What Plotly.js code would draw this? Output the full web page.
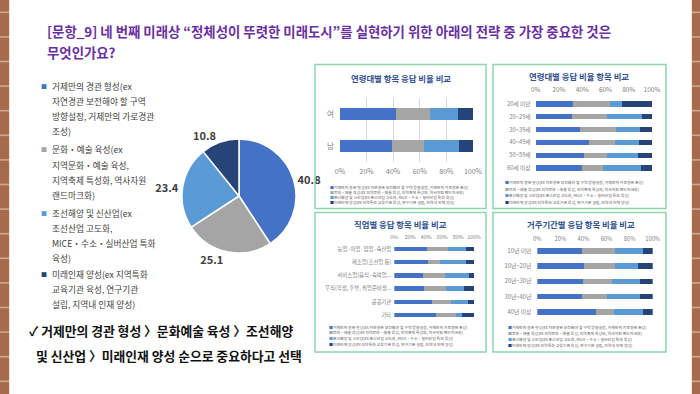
<!DOCTYPE html>
<html><head><meta charset="utf-8">
<script src="https://cdn.plot.ly/plotly-3.0.1.min.js"></script>
<style>html,body{margin:0;padding:0;background:#fff;overflow:hidden}#chart{width:700px;height:394px}</style>
</head><body><div id="chart"></div>
<script>
// ---------- DATA ----------
const seriesNames = [
  '거제만의 경관 형성(ex 자연경관 보전해야 할 구역 방향설정, 거제만의 가로경관 조성)',
  '문화・예술 육성(ex 지역문화・예술 육성, 지역축제 특성화, 역사자원 랜드마크화)',
  '조선해양 및 신산업(ex 조선산업 고도화, MICE・수소・실버산업 특화 육성)',
  '미래인재 양성(ex 지역특화 교육기관 육성, 연구기관 설립, 지역내 인재 양성)'
];
const pieLegendLines = [
  ['거제만의 경관 형성(ex', '자연경관 보전해야 할 구역', '방향설정, 거제만의 가로경관', '조성)'],
  ['문화・예술 육성(ex', '지역문화・예술 육성,', '지역축제 특성화, 역사자원', '랜드마크화)'],
  ['조선해양 및 신산업(ex', '조선산업 고도화,', 'MICE・수소・실버산업 특화', '육성)'],
  ['미래인재 양성(ex 지역특화', '교육기관 육성, 연구기관', '설립, 지역내 인재 양성)']
];
const pieValues = [40.8, 25.1, 23.4, 10.8];

const genderCats = ['여', '남'];
const genderVals = [[41.9, 38.8], [25.5, 24.4], [21.6, 26.5], [11.0, 10.3]];

const ageCats = ['20세 미만', '20~29세', '30~39세', '40~49세', '50~59세', '60세 이상'];
const ageVals = [
  [32.3, 31.1, 37.7, 45.7, 41.1, 39.7],
  [32.0, 29.8, 31.7, 22.3, 19.8, 18.0],
  [10.3, 30.8, 20.3, 20.9, 26.8, 32.9],
  [25.4, 8.3, 10.3, 11.1, 12.3, 9.4]
];

const jobCats = ['농업·어업·임업·축산업', '제조업(조선업 등)', '서비스업(음식·숙박업...', '무직(학생, 주부, 취업준비생...', '공공기관', '기타'];
const jobVals = [
  [40.8, 41.7, 35.4, 37.1, 47.5, 51.7],
  [25.9, 15.8, 28.4, 27.1, 23.3, 25.8],
  [22.9, 31.7, 29.6, 22.9, 20.9, 7.5],
  [10.4, 10.8, 6.7, 12.9, 8.3, 15.0]
];

const resCats = ['10년 미만', '10년~20년', '20년~30년', '30년~40년', '40년 이상'];
const resVals = [
  [38.4, 40.5, 39.9, 39.0, 50.9],
  [28.9, 26.8, 24.6, 21.1, 15.6],
  [24.0, 20.3, 24.2, 29.2, 24.8],
  [8.7, 12.4, 11.3, 10.7, 8.7]
];

const pctTicks = [0, 20, 40, 60, 80, 100];
const titleLines = ['[문항_9] 네 번째 미래상 “정체성이 뚜렷한 미래도시”를 실현하기 위한 아래의 전략 중 가장 중요한 것은', '무엇인가요?'];
const summaryLines = ['✓ 거제만의 경관 형성 〉문화예술 육성 〉조선해양', '및 신산업 〉미래인재 양성 순으로 중요하다고 선택'];

// ---------- STYLE ----------
const W = 700, H = 394;
const colors = ['#4472c4', '#a5a5a5', '#5b9bd5', '#264478'];
const FONT = '"Noto Sans CJK KR", "Noto Sans", sans-serif';
const fx = x => x / W;
const fy = y => 1 - y / H;

const panels = [
  {cats: genderCats, vals: genderVals, title: '연령대별 항목 응답 비율 비교', tx: 401, ty: 78,
   px: [340, 473], py: [98, 162], side: 'bottom', grid: true, bw: 0.4, tick: 7, cat: 7.5, xs: 4, ys: 5,
   box: [315, 64.5, 486, 208.5], leg: {x: 328, y: [187, 192, 197, 202]}},
  {cats: ageCats, vals: ageVals, title: '연령대별 응답 비율 항목 비교', tx: 579, ty: 76.5,
   px: [535.7, 652], py: [97.6, 174.4], side: 'top', grid: false, bw: 0.4, tick: 6.5, cat: 5.8, xs: 3, ys: 4,
   box: [493, 64.5, 666, 208.5], leg: {x: 503, y: [182.3, 188.7, 195.3, 202]}},
  {cats: jobCats, vals: jobVals, title: '직업별 응답 항목 비율 비교', tx: 400, ty: 224,
   px: [394.3, 474.3], py: [242.4, 321.6], side: 'top', grid: false, bw: 0.34, tick: 5.4, cat: 5.4, xs: 1, ys: 2,
   box: [315, 212.5, 486, 352], leg: {x: 326.7, y: [326.7, 332.3, 338, 344.3]}},
  {cats: resCats, vals: resVals, title: '거주기간별 응답 항목 비율 비교', tx: 581, ty: 224,
   px: [537.3, 652.7], py: [243.4, 319.3], side: 'top', grid: false, bw: 0.37, tick: 5.8, cat: 5.8, xs: 2.5, ys: 5,
   box: [493, 212.5, 666, 352], leg: {x: 506, y: [327.3, 333, 339, 345]}}
];

const data = [];
const layout = {
  width: W, height: H, margin: {l: 0, r: 0, t: 0, b: 0},
  paper_bgcolor: '#ffffff', plot_bgcolor: 'rgba(0,0,0,0)',
  font: {family: FONT, color: '#404040'},
  barmode: 'stack', showlegend: false,
  shapes: [], annotations: []
};

// pie
data.push({
  type: 'pie', values: pieValues, labels: seriesNames, sort: false, direction: 'clockwise', rotation: 0,
  marker: {colors: colors, line: {color: '#ffffff', width: 1.5}},
  domain: {x: [fx(182), fx(296)], y: [fy(253), fy(139)]},
  textposition: 'outside', texttemplate: '%{value}', textinfo: 'value',
  outsidetextfont: {size: 11, color: '#404040', family: FONT, weight: 'bold'},
  hoverinfo: 'none', showlegend: false
});

// bars
panels.forEach((p, i) => {
  const n = i === 0 ? '' : String(i + 1);
  p.vals.forEach((v, s) => {
    data.push({
      type: 'bar', orientation: 'h', x: v, y: p.cats, name: seriesNames[s],
      marker: {color: colors[s]}, width: p.bw,
      xaxis: 'x' + n, yaxis: 'y' + n, hoverinfo: 'none', showlegend: false
    });
  });
  layout['xaxis' + n] = {
    domain: [fx(p.px[0]), fx(p.px[1])], anchor: 'y' + n, range: [0, 100], side: p.side,
    tickvals: pctTicks, ticktext: pctTicks.map(t => t + '%'),
    showgrid: p.grid, gridcolor: '#d9d9d9', gridwidth: 1, zeroline: false, showline: false, ticks: '',
    tickfont: {size: p.tick, color: '#7f7f7f', family: FONT}, ticklabelstandoff: p.xs, fixedrange: true
  };
  layout['yaxis' + n] = {
    domain: [fy(p.py[1]), fy(p.py[0])], anchor: 'x' + n, type: 'category',
    categoryarray: p.cats, categoryorder: 'array', range: [p.cats.length - 0.5, -0.5],
    showgrid: false, zeroline: false, showline: false, ticks: '',
    tickfont: {size: p.cat, color: '#7f7f7f', family: FONT}, ticklabelstandoff: p.ys, fixedrange: true
  };
  layout.shapes.push({type: 'rect', xref: 'paper', yref: 'paper',
    x0: fx(p.box[0]), x1: fx(p.box[2]), y0: fy(p.box[3]), y1: fy(p.box[1]),
    line: {color: '#8fd5b0', width: 1.5}, fillcolor: 'rgba(0,0,0,0)'});
  layout.annotations.push({xref: 'paper', yref: 'paper', x: fx(p.tx), y: fy(p.ty), xanchor: 'center', yanchor: 'middle',
    text: p.title, showarrow: false, font: {size: 8.4, color: '#2f4f8f', family: FONT, weight: 'bold'}});
  seriesNames.forEach((nm, s) => {
    layout.annotations.push({xref: 'paper', yref: 'paper', x: fx(p.leg.x), y: fy(p.leg.y[s]), xanchor: 'left', yanchor: 'middle',
      text: '<span style="color:' + colors[s] + '">■</span>' + nm, showarrow: false,
      font: {size: 3.9, color: '#595959', family: FONT}});
  });
});

// bricks
[[0, 9], [692, 700]].forEach(([a, b]) => {
  layout.shapes.push({type: 'rect', xref: 'paper', yref: 'paper', x0: fx(a), x1: fx(b), y0: 0, y1: 1,
    line: {width: 0}, fillcolor: '#a76b4b', layer: 'below'});
  for (let y = 12.3; y < H; y += 24.6) {
    layout.shapes.push({type: 'line', xref: 'paper', yref: 'paper', x0: fx(a), x1: fx(b), y0: fy(y), y1: fy(y),
      line: {color: '#cda894', width: 1.6}});
  }
});
layout.shapes.push({type: 'line', xref: 'paper', yref: 'paper', x0: fx(9.5), x1: fx(9.5), y0: 0, y1: 1, line: {color: '#f3e3da', width: 1}});
layout.shapes.push({type: 'line', xref: 'paper', yref: 'paper', x0: fx(691.5), x1: fx(691.5), y0: 0, y1: 1, line: {color: '#f3e3da', width: 1}});

// title (two lines)
[31, 51.5].forEach((y, k) => {
  layout.annotations.push({xref: 'paper', yref: 'paper', x: fx(45), y: fy(y), xanchor: 'left', yanchor: 'middle', align: 'left',
    text: titleLines[k], showarrow: false, font: {size: 13.4, color: '#6a2f9e', family: FONT, weight: 'bold'}});
});

// pie legend (left)
const itemTop = [86, 150, 213.3, 274];
pieLegendLines.forEach((lines, s) => {
  layout.annotations.push({xref: 'paper', yref: 'paper', x: fx(44), y: fy(itemTop[s]), xanchor: 'center', yanchor: 'middle',
    text: '■', showarrow: false, font: {size: 6, color: colors[s], family: FONT}});
  lines.forEach((ln, k) => {
    layout.annotations.push({xref: 'paper', yref: 'paper', x: fx(49.5), y: fy(itemTop[s] + k * 15.1), xanchor: 'left', yanchor: 'middle',
      text: ln, showarrow: false, font: {size: 8.7, color: '#404040', family: FONT}});
  });
});

// summary
layout.annotations.push({xref: 'paper', yref: 'paper', x: fx(27), y: fy(330), xanchor: 'left', yanchor: 'middle',
  text: summaryLines[0], showarrow: false, font: {size: 12.8, color: '#111111', family: FONT, weight: 'bold'}});
layout.annotations.push({xref: 'paper', yref: 'paper', x: fx(34), y: fy(355), xanchor: 'left', yanchor: 'middle',
  text: summaryLines[1], showarrow: false, font: {size: 12.8, color: '#111111', family: FONT, weight: 'bold'}});

Plotly.newPlot('chart', data, layout, {staticPlot: true, displayModeBar: false});
</script></body></html>
